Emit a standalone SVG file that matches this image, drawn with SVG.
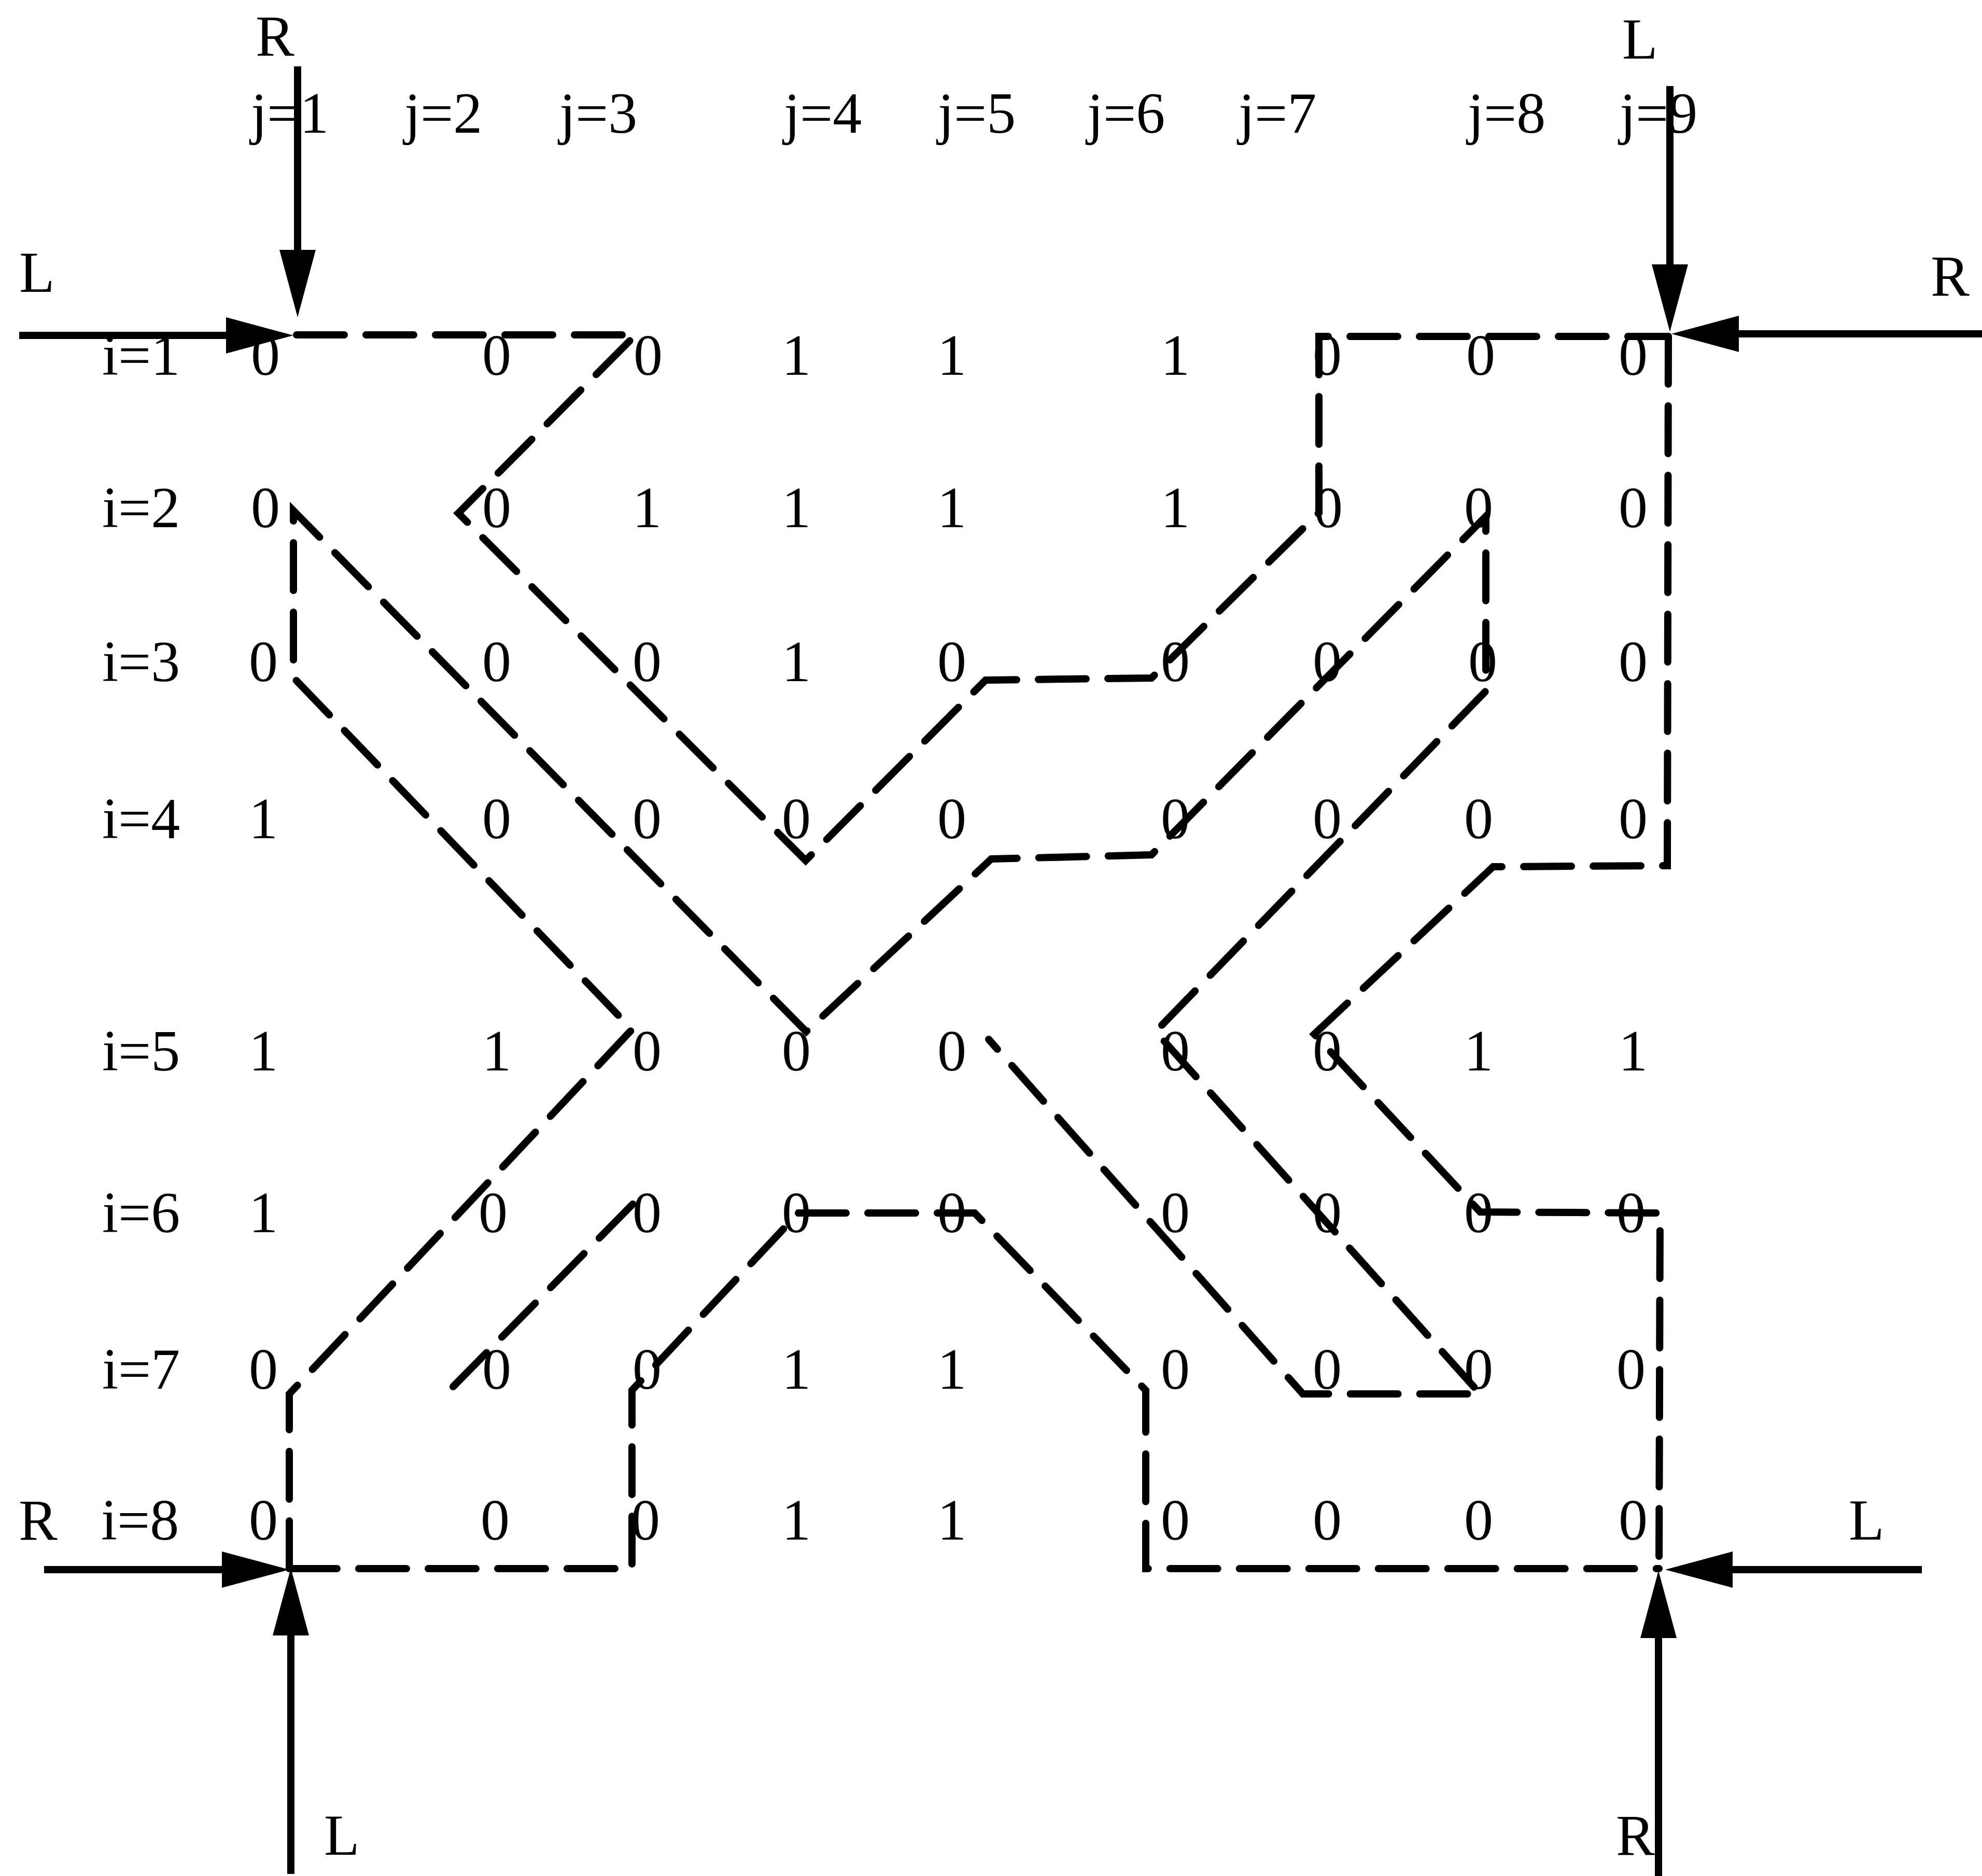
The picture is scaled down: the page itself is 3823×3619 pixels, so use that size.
<svg xmlns="http://www.w3.org/2000/svg" width="3823" height="3619" viewBox="0 0 3823 3619">
<style>
text{font-family:"Liberation Serif","Times New Roman",serif;font-size:112px;fill:#000}
.c{text-anchor:middle}
.d{fill:none;stroke:#000;stroke-width:14;stroke-dasharray:92 42;stroke-linecap:round;stroke-linejoin:miter}
.a{fill:none;stroke:#000;stroke-width:14}
</style>
<defs>
<marker id="ah" viewBox="0 -36 130 72" refX="0" refY="0" markerWidth="130" markerHeight="72" markerUnits="userSpaceOnUse" orient="auto">
<path d="M0,-35 L130,0 L0,35 z" fill="#000"/>
</marker>
</defs>
<rect width="3823" height="3619" fill="#fff"/>

<g id="col-headers">
<text x="484" y="256">j=1</text>
<text x="780" y="256">j=2</text>
<text x="1079" y="256">j=3</text>
<text x="1512" y="256">j=4</text>
<text x="1809" y="256">j=5</text>
<text x="2097" y="256">j=6</text>
<text x="2389" y="256">j=7</text>
<text x="2831" y="256">j=8</text>
<text x="3124" y="256">j=9</text>
</g>

<g id="row-labels">
<text x="197" y="723">i=1</text>
<text x="197" y="1017">i=2</text>
<text x="197" y="1314">i=3</text>
<text x="197" y="1617">i=4</text>
<text x="197" y="2065">i=5</text>
<text x="197" y="2377">i=6</text>
<text x="197" y="2679">i=7</text>
<text x="195" y="2970">i=8</text>
</g>

<g id="end-labels">
<text x="493" y="107">R</text>
<text x="3129" y="113">L</text>
<text x="37" y="563">L</text>
<text x="3724" y="570">R</text>
<text x="36" y="2970">R</text>
<text x="3566" y="2970">L</text>
<text x="625" y="3578">L</text>
<text x="3117" y="3578">R</text>
</g>

<g id="row1" class="c">
<text x="512" y="723">0</text><text x="958" y="723">0</text><text x="1250" y="723">0</text><text x="1536" y="723">1</text><text x="1836" y="723">1</text><text x="2267" y="723">1</text><text x="2560" y="723">0</text><text x="2856" y="723">0</text><text x="3150" y="723">0</text>
</g>
<g id="row2" class="c">
<text x="512" y="1017">0</text><text x="958" y="1017">0</text><text x="1248" y="1017">1</text><text x="1536" y="1017">1</text><text x="1836" y="1017">1</text><text x="2267" y="1017">1</text><text x="2562" y="1017">0</text><text x="2852" y="1017">0</text><text x="3150" y="1017">0</text>
</g>
<g id="row3" class="c">
<text x="508" y="1314">0</text><text x="958" y="1314">0</text><text x="1248" y="1314">0</text><text x="1536" y="1314">1</text><text x="1836" y="1314">0</text><text x="2267" y="1314">0</text><text x="2560" y="1314">0</text><text x="2860" y="1314">0</text><text x="3150" y="1314">0</text>
</g>
<g id="row4" class="c">
<text x="508" y="1617">1</text><text x="958" y="1617">0</text><text x="1248" y="1617">0</text><text x="1536" y="1617">0</text><text x="1836" y="1617">0</text><text x="2267" y="1617">0</text><text x="2560" y="1617">0</text><text x="2852" y="1617">0</text><text x="3150" y="1617">0</text>
</g>
<g id="row5" class="c">
<text x="508" y="2065">1</text><text x="958" y="2065">1</text><text x="1248" y="2065">0</text><text x="1536" y="2065">0</text><text x="1836" y="2065">0</text><text x="2267" y="2065">0</text><text x="2560" y="2065">0</text><text x="2852" y="2065">1</text><text x="3150" y="2065">1</text>
</g>
<g id="row6" class="c">
<text x="508" y="2377">1</text><text x="951" y="2377">0</text><text x="1248" y="2377">0</text><text x="1536" y="2377">0</text><text x="1836" y="2377">0</text><text x="2267" y="2377">0</text><text x="2560" y="2377">0</text><text x="2852" y="2377">0</text><text x="3146" y="2377">0</text>
</g>
<g id="row7" class="c">
<text x="508" y="2679">0</text><text x="958" y="2679">0</text><text x="1248" y="2679">0</text><text x="1536" y="2679">1</text><text x="1836" y="2679">1</text><text x="2267" y="2679">0</text><text x="2560" y="2679">0</text><text x="2852" y="2679">0</text><text x="3146" y="2679">0</text>
</g>
<g id="row8" class="c">
<text x="508" y="2970">0</text><text x="955" y="2970">0</text><text x="1245" y="2970">0</text><text x="1536" y="2970">1</text><text x="1836" y="2970">1</text><text x="2267" y="2970">0</text><text x="2560" y="2970">0</text><text x="2852" y="2970">0</text><text x="3150" y="2970">0</text>
</g>

<g id="connectors">
<path class="d" d="M572,646 L1226,646 L884,990 L1554,1660 L1901,1312 L2221,1308 L2544,989 L2544,649 L3218,649"/>
<path class="d" d="M558,3026 L558,2689 L1219,1986 L566,1307 L566,985 L1555,1990 L1912,1657 L2221,1649 L2866,996 L2866,1333 L2229,1990 L2855,2689 L2513,2689 L1907,2005"/>
<path class="d" d="M3218,649 L3216,1670 L2880,1672 L2535,1995 L2855,2338 L3202,2340 L3200,3026"/>
<path class="d" d="M558,3026 L1219,3026 L1219,2682 L1540,2340 L1880,2340 L2210,2682 L2210,3026 L3200,3026"/>
<path class="d" d="M874,2675 L1233,2310"/>

<line class="a" x1="574" y1="128" x2="574" y2="482" marker-end="url(#ah)"/>
<line class="a" x1="37" y1="647" x2="436" y2="647" marker-end="url(#ah)"/>
<line class="a" x1="3221" y1="166" x2="3221" y2="510" marker-end="url(#ah)"/>
<line class="a" x1="3823" y1="644" x2="3354" y2="644" marker-end="url(#ah)"/>
<line class="a" x1="85" y1="3028" x2="428" y2="3028" marker-end="url(#ah)"/>
<line class="a" x1="561" y1="3615" x2="561" y2="3155" marker-end="url(#ah)"/>
<line class="a" x1="3707" y1="3028" x2="3342" y2="3028" marker-end="url(#ah)"/>
<line class="a" x1="3199" y1="3619" x2="3199" y2="3160" marker-end="url(#ah)"/>
</g>
</svg>
